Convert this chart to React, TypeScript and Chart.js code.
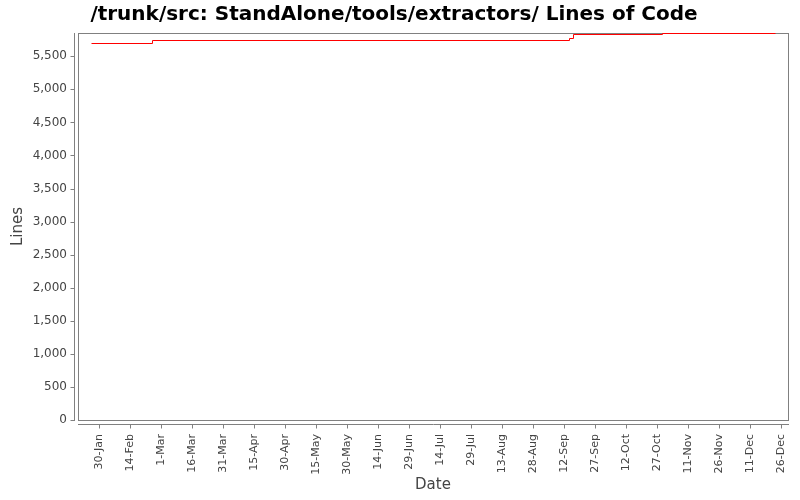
import React, { useEffect, useRef } from "react";
import { Chart, registerables } from "chart.js";

Chart.register(...registerables);

const chartTitle = "/trunk/src: StandAlone/tools/extractors/ Lines of Code";
const xAxisTitle = "Date";
const yAxisTitle = "Lines";
const YEAR = 2007;

// points where the line count changed (stepped line holds value until next point)
const changeDates = [
  "2007-01-26T00:00",
  "2007-02-24T14:00",
  "2007-09-14T12:00",
  "2007-09-16T10:00",
  "2007-10-29T12:00",
  "2007-12-23T00:00",
];
const lineCounts = [5700, 5746, 5770, 5836, 5852, 5852];

const xTickLabels = [
  "30-Jan", "14-Feb", "1-Mar", "16-Mar", "31-Mar", "15-Apr", "30-Apr", "15-May",
  "30-May", "14-Jun", "29-Jun", "14-Jul", "29-Jul", "13-Aug", "28-Aug", "12-Sep",
  "27-Sep", "12-Oct", "27-Oct", "11-Nov", "26-Nov", "11-Dec", "26-Dec",
];
const yTickValues = [0, 500, 1000, 1500, 2000, 2500, 3000, 3500, 4000, 4500, 5000, 5500];

const xMinDate = "2007-01-19T17:00";
const xMaxDate = "2007-12-29T12:00";
const yMin = 0;
const yMax = 5852;

const monthNames = ["Jan", "Feb", "Mar", "Apr", "May", "Jun", "Jul", "Aug", "Sep", "Oct", "Nov", "Dec"];

const DAY = 86400000;
const yearStart = Date.UTC(YEAR, 0, 1);
const toDay = (s: string) => (Date.parse(s + "Z") - yearStart) / DAY;
const labelToDay = (lbl: string) => {
  const [d, m] = lbl.split("-");
  return (Date.UTC(YEAR, monthNames.indexOf(m), parseInt(d, 10)) - yearStart) / DAY;
};

const FONT = "'DejaVu Sans', Verdana, sans-serif";
const AXIS_GRAY = "#808080";
const TEXT_GRAY = "#444444";

const framePlugin = {
  id: "jfreeFrame",
  afterDatasetsUpdate(chart: any) {
    // snap computed point positions to the pixel grid for crisp 1px steps
    chart.getDatasetMeta(0).data.forEach((p: any) => {
      p.x = Math.round(p.x) + 0.5;
      p.y = Math.round(p.y) + 0.5;
    });
  },
  beforeDatasetsDraw(chart: any) {
    const { ctx, chartArea } = chart;
    const { left, top, right, bottom } = chartArea;
    ctx.save();
    ctx.strokeStyle = AXIS_GRAY;
    ctx.lineWidth = 1;
    ctx.strokeRect(Math.round(left) + 0.5, Math.round(top) + 0.5, Math.round(right - left), Math.round(bottom - top));
    ctx.restore();
  },
  afterDraw(chart: any) {
    const { ctx, chartArea, scales } = chart;
    const { left, top, right, bottom } = chartArea;
    ctx.save();
    ctx.strokeStyle = AXIS_GRAY;
    ctx.lineWidth = 1;
    const ax = Math.round(left) - 4 + 0.5;
    ctx.beginPath();
    ctx.moveTo(ax, top);
    ctx.lineTo(ax, bottom + 1);
    scales.y.ticks.forEach((t: any) => {
      const py = Math.round(scales.y.getPixelForValue(t.value)) + 0.5;
      ctx.moveTo(ax - 4, py);
      ctx.lineTo(ax, py);
    });
    ctx.stroke();
    const ay = Math.round(bottom) + 4 + 0.5;
    ctx.beginPath();
    ctx.moveTo(left, ay);
    ctx.lineTo(right + 1, ay);
    scales.x.ticks.forEach((t: any) => {
      const px = Math.round(scales.x.getPixelForValue(t.value)) + 0.5;
      ctx.moveTo(px, ay);
      ctx.lineTo(px, ay + 4);
    });
    ctx.stroke();
    ctx.restore();
  },
};

export default function App() {
  const canvasRef = useRef<HTMLCanvasElement | null>(null);

  useEffect(() => {
    document.body.style.margin = "0";
    const canvas = canvasRef.current;
    if (!canvas) return;

    const points = changeDates.map((d, i) => ({ x: toDay(d), y: lineCounts[i] }));

    const chart = new Chart(canvas, {
      type: "line",
      data: {
        datasets: [
          {
            label: "Lines",
            data: points,
            stepped: "before",
            borderColor: "#ff0000",
            borderWidth: 1,
            pointRadius: 0,
            fill: false,
            clip: 3,
          } as any,
        ],
      },
      plugins: [framePlugin],
      options: {
        responsive: false,
        animation: false,
        devicePixelRatio: 1,
        layout: { padding: { left: 0, right: 12, top: 0, bottom: 0 } },
        plugins: {
          legend: { display: false },
          tooltip: { enabled: false },
          title: {
            display: true,
            text: chartTitle,
            color: "#000000",
            font: { family: FONT, size: 20, weight: "bold", lineHeight: 1.2 },
            padding: { top: 3, bottom: 6 },
          },
        },
        scales: {
          x: {
            type: "linear",
            min: toDay(xMinDate),
            max: toDay(xMaxDate),
            grid: { display: false, drawTicks: false },
            border: { display: false },
            afterBuildTicks: (scale: any) => {
              scale.ticks = xTickLabels.map((l) => ({ value: labelToDay(l) }));
            },
            afterFit: (scale: any) => {
              scale.height = 80;
              scale.paddingLeft = 0;
              scale.paddingRight = 0;
            },
            ticks: {
              autoSkip: false,
              minRotation: 90,
              maxRotation: 90,
              padding: 14,
              color: TEXT_GRAY,
              font: { family: FONT, size: 11 },
              callback: (v: any) => {
                const idx = xTickLabels.findIndex((l) => Math.abs(labelToDay(l) - Number(v)) < 1e-6);
                return idx >= 0 ? xTickLabels[idx] : "";
              },
            },
            title: {
              display: true,
              text: xAxisTitle,
              color: TEXT_GRAY,
              font: { family: FONT, size: 15, lineHeight: 1.2 },
              padding: { top: 0, bottom: 5.5 },
            },
          },
          y: {
            type: "linear",
            min: yMin,
            max: yMax,
            grid: { display: false, drawTicks: false },
            border: { display: false },
            afterBuildTicks: (scale: any) => {
              scale.ticks = yTickValues.map((v) => ({ value: v }));
            },
            afterFit: (scale: any) => {
              scale.width = 78;
            },
            ticks: {
              padding: 11,
              color: TEXT_GRAY,
              font: { family: FONT, size: 12 },
              callback: (v: any) => Number(v).toLocaleString("en-US"),
            },
            title: {
              display: true,
              text: yAxisTitle,
              color: TEXT_GRAY,
              font: { family: FONT, size: 15, lineHeight: 1.2 },
              padding: { top: 9.5, bottom: 0 },
            },
          },
        },
      },
    });

    return () => {
      chart.destroy();
    };
  }, []);

  return (
    <div style={{ width: 800, height: 500, background: "#ffffff" }}>
      <canvas ref={canvasRef} width={800} height={500} style={{ display: "block" }} />
    </div>
  );
}
